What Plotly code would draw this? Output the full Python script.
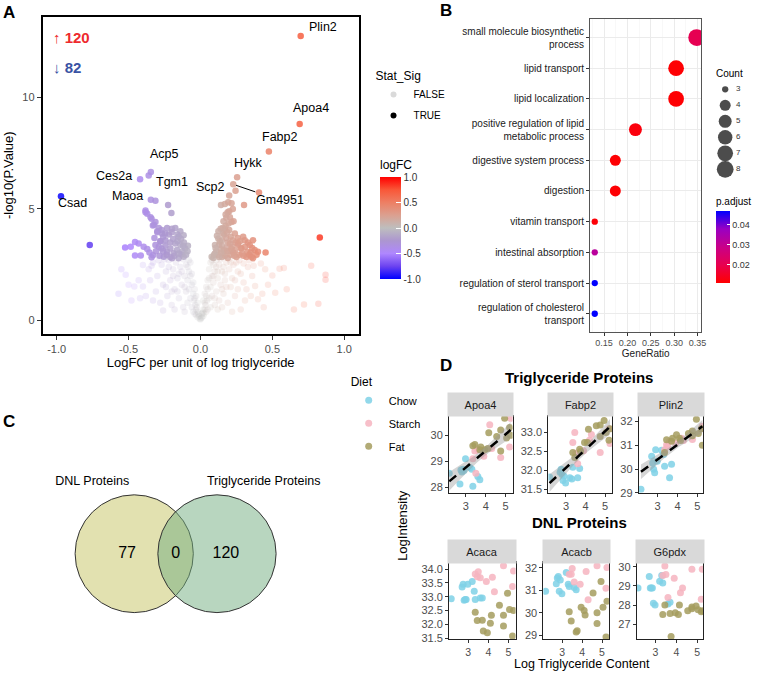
import numpy as np
import plotly.graph_objects as go

# ======================= DATA =======================
# ---- Panel A: volcano (logFC, -log10 P) ----
n_up_sig = 120
n_down_sig = 82

nonsig_points = [
    (0.87, 2.05), (0.87, 1.83), (0.82, 0.75), (0.72, 0.72), (0.77, 2.46), (0.58, 2.35), (0.55, 2.32),
    (0.50, 2.02), (0.45, 2.30), (0.42, 2.55), (0.47, 1.60), (0.43, 1.20), (0.38, 1.55), (0.40, 0.95),
    (0.52, 1.25), (0.36, 2.00), (0.33, 2.40), (0.35, 1.10), (0.30, 1.70), (0.28, 2.10), (0.31, 0.90),
    (0.26, 1.40), (0.25, 2.60), (0.22, 1.90), (0.24, 1.10), (0.20, 2.30), (0.21, 1.50), (0.19, 0.80),
    (0.18, 2.60), (0.17, 1.80), (0.16, 1.20), (0.15, 2.20), (0.14, 1.60), (0.13, 2.50), (0.13, 0.90),
    (0.12, 1.90), (0.11, 2.70), (0.11, 1.30), (0.10, 2.20), (0.10, 0.70), (0.09, 1.70), (0.09, 2.50),
    (0.08, 1.10), (0.08, 2.00), (0.07, 1.50), (0.07, 0.60), (0.06, 1.90), (0.06, 1.00), (0.05, 1.40),
    (0.05, 0.50), (0.045, 0.90), (0.04, 1.10), (0.04, 0.40), (0.035, 0.70), (0.03, 0.50), (0.03, 0.80),
    (0.025, 0.30), (0.02, 0.50), (0.02, 0.20), (0.015, 0.35), (0.01, 0.15), (0.01, 0.30), (0.005, 0.10),
    (0.0, 0.05), (0.14, 2.75), (0.16, 2.40), (0.20, 2.75), (0.23, 2.50), (0.27, 2.70), (0.30, 2.55),
    (0.34, 2.70), (0.37, 2.45), (0.12, 0.50), (0.15, 0.60), (0.22, 0.40), (0.28, 0.50), (0.10, 1.00),
    (0.18, 1.50), (0.26, 2.20), (0.32, 1.40), (0.44, 0.60), (0.60, 1.40), (0.65, 0.50),
    (-0.52, 2.05), (-0.46, 1.53), (-0.40, 1.53), (-0.43, 1.80), (-0.40, 2.49), (-0.36, 2.30), (-0.57, 1.20),
    (-0.48, 0.90), (-0.38, 1.10), (-0.35, 1.80), (-0.33, 2.60), (-0.31, 1.30), (-0.30, 2.00), (-0.28, 0.80),
    (-0.27, 2.50), (-0.26, 1.60), (-0.24, 2.20), (-0.23, 1.10), (-0.22, 2.70), (-0.21, 1.80), (-0.20, 0.70),
    (-0.19, 2.30), (-0.18, 1.40), (-0.17, 2.60), (-0.16, 1.90), (-0.15, 1.00), (-0.14, 2.40), (-0.13, 1.60),
    (-0.12, 2.75), (-0.12, 0.60), (-0.11, 2.00), (-0.10, 1.30), (-0.10, 2.50), (-0.09, 1.80), (-0.09, 0.80),
    (-0.08, 2.20), (-0.08, 1.40), (-0.07, 1.00), (-0.07, 2.00), (-0.06, 1.60), (-0.06, 0.60), (-0.05, 1.20),
    (-0.05, 0.40), (-0.045, 0.90), (-0.04, 1.00), (-0.04, 0.30), (-0.035, 0.70), (-0.03, 0.50), (-0.03, 0.25),
    (-0.025, 0.60), (-0.02, 0.40), (-0.02, 0.15), (-0.015, 0.30), (-0.01, 0.20), (-0.005, 0.08),
    (-0.25, 2.75), (-0.29, 2.70), (-0.34, 2.45), (-0.18, 0.50), (-0.26, 0.45), (-0.33, 0.90), (-0.42, 1.00),
    (-0.50, 1.60), (-0.55, 2.30), (-0.15, 2.10), (-0.20, 1.30), (-0.11, 0.40),
    (0.03, 1.20), (0.06, 2.30), (0.07, 2.60), (0.08, 2.70), (0.05, 1.80), (0.04, 1.50), (-0.03, 1.10),
    (-0.05, 1.70), (-0.06, 2.10), (-0.07, 2.60), (-0.08, 2.70), (-0.04, 1.40), (0.02, 0.90), (-0.02, 0.80),
    (0.09, 2.00), (-0.09, 2.40), (0.11, 2.40), (-0.11, 1.50), (0.12, 2.20), (-0.13, 2.20), (0.15, 1.40),
    (-0.16, 1.30), (0.17, 2.10), (-0.19, 2.00), (0.21, 2.60), (-0.22, 2.40), (0.24, 1.80), (-0.24, 1.50),
]

down_sig_points = [
    (-0.97, 5.57), (-0.77, 3.38), (-0.524, 3.27), (-0.485, 3.30), (-0.455, 3.52), (-0.43, 3.45),
    (-0.395, 3.30), (-0.455, 2.91), (-0.415, 2.91), (-0.34, 2.84), (-0.33, 2.92),
    (-0.42, 6.33), (-0.345, 6.65), (-0.36, 6.50), (-0.345, 5.41), (-0.313, 5.37), (-0.382, 4.93),
    (-0.37, 4.78), (-0.347, 4.63), (-0.331, 4.26), (-0.313, 4.41), (-0.29, 4.14), (-0.30, 3.95),
    (-0.32, 3.70), (-0.28, 3.55), (-0.225, 5.18), (-0.202, 4.82),
    (-0.232, 4.14), (-0.198, 4.11), (-0.175, 4.14), (-0.14, 4.00), (-0.117, 3.82), (-0.152, 3.75),
    (-0.087, 3.35), (-0.244, 3.35), (-0.232, 3.08), (-0.209, 3.23), (-0.186, 3.01), (-0.163, 3.16),
    (-0.133, 2.96), (-0.117, 2.86), (-0.255, 2.86), (-0.198, 2.79), (-0.152, 2.79), (-0.271, 3.23),
    (-0.29, 3.30), (-0.313, 3.38), (-0.278, 3.55), (-0.244, 3.60), (-0.21, 3.50), (-0.175, 3.45),
    (-0.14, 3.40), (-0.106, 3.23), (-0.22, 3.85), (-0.267, 3.90), (-0.30, 4.00), (-0.324, 4.29),
    (-0.34, 4.56), (-0.382, 4.85), (-0.26, 3.75), (-0.19, 3.65), (-0.16, 3.55), (-0.125, 3.10),
    (-0.10, 2.95), (-0.18, 2.90), (-0.21, 2.85), (-0.235, 2.95), (-0.26, 3.10), (-0.285, 2.90),
    (-0.31, 3.10), (-0.355, 3.05), (-0.37, 3.20), (-0.15, 3.00), (-0.12, 3.35), (-0.09, 3.10),
    (-0.27, 4.05), (-0.245, 3.90), (-0.20, 3.95), (-0.16, 3.85), (-0.135, 3.65), (-0.115, 3.50),
]

up_sig_points = [
    (0.697, 12.74), (0.69, 8.80), (0.476, 7.57), (0.255, 6.42), (0.228, 6.10), (0.244, 5.81),
    (0.407, 5.74), (0.303, 5.18), (0.83, 3.72), (0.453, 3.05),
    (0.143, 5.18), (0.17, 5.22), (0.193, 5.30), (0.216, 5.25), (0.189, 4.85), (0.205, 4.63),
    (0.216, 4.41), (0.23, 4.45), (0.195, 4.35), (0.17, 4.11), (0.14, 4.11), (0.20, 4.05),
    (0.239, 3.90), (0.124, 3.67), (0.101, 3.38), (0.078, 2.86), (0.09, 2.80), (0.11, 3.10),
    (0.13, 3.40), (0.15, 3.60), (0.165, 3.85), (0.18, 3.70), (0.19, 3.50), (0.21, 3.75),
    (0.225, 3.60), (0.245, 3.50), (0.26, 3.40), (0.14, 3.20), (0.16, 3.00), (0.18, 3.25),
    (0.20, 3.10), (0.22, 3.30), (0.12, 2.95), (0.15, 2.85), (0.17, 2.90), (0.19, 2.80),
    (0.21, 2.95), (0.23, 3.05), (0.25, 2.85), (0.10, 3.00), (0.135, 3.55), (0.155, 3.90),
    (0.175, 4.25), (0.185, 3.95), (0.205, 3.45), (0.24, 3.15), (0.27, 2.95), (0.26, 3.70),
    (0.28, 3.25), (0.297, 3.75), (0.308, 3.60), (0.343, 3.38), (0.366, 3.60), (0.377, 3.16),
    (0.40, 3.08), (0.366, 2.79), (0.326, 3.08), (0.285, 3.23), (0.262, 3.45), (0.30, 2.90),
    (0.32, 2.85), (0.35, 3.05), (0.34, 2.95), (0.29, 3.00), (0.31, 3.30), (0.33, 3.50),
    (0.275, 3.55), (0.36, 3.25), (0.39, 2.95), (0.355, 2.85), (0.115, 3.80), (0.125, 4.00),
    (0.16, 4.45), (0.18, 4.60), (0.20, 4.90), (0.225, 5.00), (0.175, 4.75), (0.155, 4.15),
    (0.20, 5.60), (0.15, 3.35), (0.165, 3.15), (0.105, 3.25), (0.095, 2.95), (0.185, 3.10),
    (0.215, 3.20), (0.235, 2.90), (0.13, 2.85), (0.145, 3.05),
]

label_genes = ["Plin2", "Apoa4", "Fabp2", "Hykk", "Acp5", "Ces2a", "Tgm1", "Maoa", "Csad", "Scp2"]
label_logfc = [0.697, 0.69, 0.476, 0.255, -0.345, -0.42, -0.36, -0.345, -0.97, 0.244]
label_logp = [12.74, 8.80, 7.57, 6.42, 6.65, 6.33, 6.50, 5.41, 5.57, 5.81]
arrow_gene = "Gm4951"
arrow_logfc = 0.228
arrow_logp = 6.10

# ---- Panel B: GO enrichment ----
go_terms = [
    "small molecule biosynthetic<br>process", "lipid transport", "lipid localization",
    "positive regulation of lipid<br>metabolic process", "digestive system process", "digestion",
    "vitamin transport", "intestinal absorption", "regulation of sterol transport",
    "regulation of cholesterol<br>transport",
]
go_gene_ratio = [0.348, 0.304, 0.304, 0.217, 0.174, 0.174, 0.130, 0.130, 0.130, 0.130]
go_count = [8, 7, 7, 5, 4, 4, 3, 3, 3, 3]
go_padj = [0.0205, 0.0113, 0.0113, 0.0125, 0.0115, 0.0115, 0.0118, 0.0320, 0.0470, 0.0470]
count_breaks = [3, 4, 5, 6, 7, 8]

# ---- Panel C: Venn ----
venn_sets = ["DNL Proteins", "Triglyceride Proteins"]
venn_counts = [77, 0, 120]   # DNL only, both, TG only

# ---- Panel D: protein intensity vs log triglyceride ----
diet_names = ["Chow", "Starch", "Fat"]
tg_chow = [2.16, 2.70, 2.75, 2.80, 2.85, 2.98, 3.20, 3.30, 3.35, 3.60, 3.70, 2.90]
tg_starch = [3.35, 3.50, 3.45, 3.60, 3.90, 4.20, 4.30, 4.75, 5.25, 5.20]
tg_fat = [3.35, 3.45, 3.70, 3.75, 3.95, 4.15, 4.10, 4.55, 4.75, 4.75, 4.95, 5.05, 5.25, 5.20]

apoa4_chow = [28.55, 28.14, 28.67, 28.60, 28.70, 29.10, 28.77, 28.70, 28.05, 28.43, 28.30, 28.65]
apoa4_starch = [29.10, 28.55, 29.40, 29.45, 29.20, 30.40, 29.50, 29.15, 30.65, 29.55]
apoa4_fat = [29.60, 29.65, 29.45, 29.55, 29.45, 30.10, 29.50, 29.95, 29.40, 30.20, 30.65, 29.90, 30.00, 30.30]

fabp2_chow = [31.82, 31.95, 32.03, 31.89, 31.73, 31.66, 31.80, 31.77, 32.08, 31.80, 32.05, 31.85]
fabp2_starch = [32.74, 32.45, 33.00, 32.17, 32.52, 32.80, 32.95, 32.47, 32.71, 33.10]
fabp2_fat = [32.47, 32.34, 32.56, 32.50, 32.74, 33.09, 32.74, 33.18, 32.90, 33.20, 33.32, 33.00, 33.10, 32.80]

plin2_chow = [29.15, 30.54, 30.26, 29.99, 29.85, 30.33, 30.79, 30.61, 30.12, 29.64, 30.20, 30.82]
plin2_starch = [30.82, 30.96, 31.03, 31.17, 31.10, 31.30, 31.20, 31.25, 31.80, 31.70]
plin2_fat = [30.70, 31.24, 31.17, 31.30, 31.45, 31.20, 31.30, 31.50, 31.60, 31.40, 32.10, 31.50, 31.00, 31.70]

acaca_chow = [32.93, 33.35, 33.45, 32.87, 32.90, 33.45, 33.55, 33.20, 32.90, 32.95, 32.95, 32.90]
acaca_starch = [33.82, 33.90, 33.72, 33.69, 33.55, 33.70, 33.18, 34.12, 33.93, 33.37]
acaca_fat = [32.44, 32.14, 32.15, 31.76, 31.70, 32.33, 32.04, 32.69, 32.33, 31.94, 33.13, 32.54, 32.50, 31.58]

acacb_chow = [30.96, 31.30, 31.55, 31.62, 30.96, 30.85, 31.80, 31.28, 31.18, 31.13, 31.03, 31.47]
acacb_starch = [31.72, 31.98, 31.72, 31.37, 31.28, 31.84, 30.59, 32.10, 32.02, 31.10]
acacb_fat = [30.05, 29.64, 29.15, 29.20, 30.25, 29.90, 30.10, 30.88, 29.53, 30.00, 31.40, 30.25, 30.52, 28.93]

g6pdx_chow = [28.90, 29.50, 28.90, 28.90, 28.90, 28.00, 29.25, 29.55, 29.15, 28.05, 28.15, 28.10]
g6pdx_starch = [29.55, 29.60, 30.05, 28.40, 29.40, 28.65, 28.90, 29.88, 29.88, 28.30]
g6pdx_fat = [27.50, 28.00, 27.55, 26.35, 27.60, 28.00, 27.50, 27.70, 27.80, 27.90, 27.95, 27.75, 27.70, 27.65]

tg_proteins = ["Apoa4", "Fabp2", "Plin2"]
dnl_proteins = ["Acaca", "Acacb", "G6pdx"]

# ======================= STYLE / LAYOUT =======================
W, H = 759, 678
FONT = "Liberation Sans, Arial, Helvetica, sans-serif"
TICKGREY = "#4D4D4D"


def xdom(l, r):
    return [l / W, r / W]


def ydom(t, b):
    return [1 - b / H, 1 - t / H]


def pxx(v):
    return v / W


def pxy(v):
    return 1 - v / H


def paper_text(x, y, text, size, xanchor="center", yanchor="middle", color="black", **kw):
    d = dict(x=pxx(x), y=pxy(y), xref="paper", yref="paper", text=text, showarrow=False,
             xanchor=xanchor, yanchor=yanchor, font=dict(size=size, color=color))
    d.update(kw)
    return d


logfc_scale = [
    [0.0, "rgb(0,0,255)"], [0.125, "rgb(108,67,240)"], [0.25, "rgb(175,135,254)"],
    [0.375, "rgb(172,150,208)"], [0.5, "rgb(190,190,190)"], [0.625, "rgb(219,160,144)"],
    [0.75, "rgb(237,127,100)"], [0.875, "rgb(249,87,56)"], [1.0, "rgb(255,0,0)"],
]
padj_scale = [
    [0.0, "rgb(255,0,0)"], [0.25, "rgb(232,0,79)"], [0.5, "rgb(201,0,136)"],
    [0.75, "rgb(154,0,194)"], [1.0, "rgb(0,0,255)"],
]
diet_colors = {"Chow": "#7FD1E6", "Starch": "#F6B4C0", "Fat": "#A49C5E"}


def count_size(c):
    # ggplot-like area scaling, range (3, 8) -> pixel diameter
    return 2.1 * (3 + 5 * np.sqrt((c - 3) / 5.0))


fig = go.Figure()

# ---------- Panel A ----------
ns_x, ns_y = zip(*nonsig_points)
fig.add_trace(go.Scatter(
    x=ns_x, y=ns_y, mode="markers", xaxis="x", yaxis="y", showlegend=False, hoverinfo="skip",
    marker=dict(color=list(ns_x), coloraxis="coloraxis", size=6.5, opacity=0.17, line=dict(width=0)),
))
sig_points = down_sig_points + up_sig_points
sg_x, sg_y = zip(*sig_points)
fig.add_trace(go.Scatter(
    x=sg_x, y=sg_y, mode="markers", xaxis="x", yaxis="y", showlegend=False,
    marker=dict(color=list(sg_x), coloraxis="coloraxis", size=6.5, opacity=0.85, line=dict(width=0)),
))
# Stat_Sig legend entries
fig.add_trace(go.Scatter(x=[None], y=[None], mode="markers", name="FALSE", legend="legend",
                         legendgroup="false", marker=dict(color="#DADADA", size=6),
                         xaxis="x", yaxis="y"))
fig.add_trace(go.Scatter(x=[None], y=[None], mode="markers", name="TRUE", legend="legend",
                         legendgroup="true", marker=dict(color="black", size=6),
                         xaxis="x", yaxis="y"))

annotations = []
label_offsets = {"Plin2": (22, 9), "Apoa4": (11, 16), "Fabp2": (11, 15), "Hykk": (11, 14),
                 "Acp5": (14, 18), "Ces2a": (-26, 3), "Tgm1": (23, -7), "Maoa": (-23, 4),
                 "Csad": (12, -7), "Scp2": (-25, 4)}
for g, lx, ly in zip(label_genes, label_logfc, label_logp):
    dx, dy = label_offsets[g]
    annotations.append(dict(x=lx, y=ly, xref="x", yref="y", text=g, showarrow=False,
                            xanchor="center", yanchor="middle",
                            xshift=dx, yshift=dy, font=dict(size=12.5, color="black")))
annotations.append(dict(x=arrow_logfc, y=arrow_logp, xref="x", yref="y", text=arrow_gene,
                        showarrow=True, arrowhead=0, arrowwidth=1, arrowcolor="black",
                        ax=47, ay=16, standoff=3, font=dict(size=12.5, color="black")))
annotations.append(paper_text(51, 37, "<b>↑ %d</b>" % n_up_sig, 15, xanchor="left", color="#EE2A2E"))
annotations.append(paper_text(51, 67, "<b>↓ %d</b>" % n_down_sig, 15, xanchor="left", color="#3953A4"))
annotations.append(paper_text(381, 166, "logFC", 12, xanchor="left"))

# ---------- Panel B ----------
fig.add_trace(go.Scatter(
    x=go_gene_ratio, y=go_terms, mode="markers", xaxis="x2", yaxis="y2", showlegend=False,
    marker=dict(size=[count_size(c) for c in go_count], color=go_padj, coloraxis="coloraxis2",
                opacity=1, line=dict(width=0)),
))
# Count size legend (drawn on a hidden axis)
fig.add_trace(go.Scatter(
    x=[0] * len(count_breaks), y=count_breaks, mode="markers", xaxis="x4", yaxis="y4",
    showlegend=False, hoverinfo="skip", cliponaxis=False,
    marker=dict(size=[count_size(c) for c in count_breaks], color="black", line=dict(width=0)),
))
fig.add_trace(go.Scatter(
    x=[11] * len(count_breaks), y=count_breaks, mode="text", xaxis="x4", yaxis="y4",
    text=[str(c) for c in count_breaks], textposition="middle right", showlegend=False,
    hoverinfo="skip", cliponaxis=False, textfont=dict(size=8, color="#333333"),
))
annotations.append(paper_text(719, 73, "Count", 10, xanchor="left"))
annotations.append(paper_text(719, 203, "p.adjust", 10, xanchor="left"))

# ---------- Panel C ----------
fig.add_trace(go.Scatter(
    x=[-0.82, 0.0, 0.85], y=[0, 0, 0], mode="text", xaxis="x3", yaxis="y3",
    text=[str(v) for v in venn_counts], showlegend=False, hoverinfo="skip", cliponaxis=False,
    textfont=dict(size=16, color="black"),
))
fig.add_trace(go.Scatter(
    x=[-1.41, 1.49], y=[1.22, 1.22], mode="text", xaxis="x3", yaxis="y3",
    text=venn_sets, showlegend=False, hoverinfo="skip", cliponaxis=False,
    textfont=dict(size=12.5, color="black"),
))
shapes = [
    dict(type="circle", xref="x3", yref="y3", x0=-1.7, x1=0.3, y0=-1, y1=1,
         fillcolor="rgba(197,195,97,0.5)", line=dict(color="#333333", width=1), layer="below"),
    dict(type="circle", xref="x3", yref="y3", x0=-0.3, x1=1.7, y0=-1, y1=1,
         fillcolor="rgba(113,173,127,0.5)", line=dict(color="#333333", width=1), layer="below"),
]

# ---------- Panel D ----------
tg_by_diet = {"Chow": tg_chow, "Starch": tg_starch, "Fat": tg_fat}
panel_values = {
    "Apoa4": (apoa4_chow, apoa4_starch, apoa4_fat),
    "Fabp2": (fabp2_chow, fabp2_starch, fabp2_fat),
    "Plin2": (plin2_chow, plin2_starch, plin2_fat),
    "Acaca": (acaca_chow, acaca_starch, acaca_fat),
    "Acacb": (acacb_chow, acacb_starch, acacb_fat),
    "G6pdx": (g6pdx_chow, g6pdx_starch, g6pdx_fat),
}
# layout boxes: (left, right, top, bottom) px, x range, y range, y ticks, y format
panel_boxes = {
    "Apoa4": (452, 516, 419, 497, [2.15, 5.35], [27.8, 30.75], [28, 29, 30], "d"),
    "Fabp2": (552, 616, 419, 497, [2.10, 5.35], [31.4, 33.45], [31.5, 32.0, 32.5, 33.0], ".1f"),
    "Plin2": (643, 708, 419, 497, [2.05, 5.30], [29.0, 32.25], [29, 30, 31, 32], "d"),
    "Acaca": (452, 519, 567, 645, [2.05, 5.35], [31.46, 34.25], [31.5, 32.0, 32.5, 33.0, 33.5, 34.0], ".1f"),
    "Acacb": (547, 613, 567, 645, [2.05, 5.35], [28.82, 32.26], [29, 30, 31, 32], "d"),
    "G6pdx": (641, 708, 567, 645, [2.10, 5.30], [26.2, 30.25], [27, 28, 29, 30], "d"),
}


def fit_band(x, y, n_grid=60):
    x = np.asarray(x, float)
    y = np.asarray(y, float)
    b1, b0 = np.polyfit(x, y, 1)
    xs = np.linspace(x.min(), x.max(), n_grid)
    yhat = b0 + b1 * xs
    resid = y - (b0 + b1 * x)
    n = len(x)
    s = np.sqrt(np.sum(resid ** 2) / (n - 2))
    sxx = np.sum((x - x.mean()) ** 2)
    se = s * np.sqrt(1.0 / n + (xs - x.mean()) ** 2 / sxx)
    t = 2.03
    return xs, yhat, yhat - t * se, yhat + t * se


layout_axes = {}


def frame_axis(domain, rng, anchor, **kw):
    d = dict(domain=domain, range=rng, anchor=anchor, showline=True, mirror=True,
             linecolor="#222222", linewidth=1, ticks="outside", ticklen=3, tickcolor="#333333",
             tickfont=dict(size=11, color=TICKGREY), showgrid=False, zeroline=False, fixedrange=True)
    d.update(kw)
    return d


all_panels = tg_proteins + dnl_proteins
for i, prot in enumerate(all_panels):
    k = 5 + i
    xa, ya = "x%d" % k, "y%d" % k
    l, r, t, b, xr, yr, yt, yf = panel_boxes[prot]
    vals = panel_values[prot]
    for dname, yv in zip(diet_names, vals):
        fig.add_trace(go.Scatter(
            x=tg_by_diet[dname], y=yv, mode="markers", xaxis=xa, yaxis=ya,
            name=dname, legend="legend2", legendgroup=dname, showlegend=(i == 0),
            marker=dict(color=diet_colors[dname], size=7, opacity=0.85, line=dict(width=0)),
        ))
    if prot in tg_proteins:
        allx = tg_chow + tg_starch + tg_fat
        ally = list(vals[0]) + list(vals[1]) + list(vals[2])
        xs, yhat, lo, hi = fit_band(allx, ally)
        fig.add_trace(go.Scatter(
            x=np.concatenate([xs, xs[::-1]]), y=np.concatenate([hi, lo[::-1]]), fill="toself",
            fillcolor="rgba(150,150,150,0.4)", line=dict(width=0), mode="lines",
            xaxis=xa, yaxis=ya, showlegend=False, hoverinfo="skip",
        ))
        fig.add_trace(go.Scatter(
            x=xs, y=yhat, mode="lines", line=dict(color="black", width=2.5, dash="dash"),
            xaxis=xa, yaxis=ya, showlegend=False, hoverinfo="skip",
        ))
    xtick_size = 11 if prot in tg_proteins else 10.5
    layout_axes["xaxis%d" % k] = frame_axis(xdom(l, r), xr, ya, tickvals=[3, 4, 5],
                                            tickfont=dict(size=xtick_size, color=TICKGREY))
    layout_axes["yaxis%d" % k] = frame_axis(ydom(t, b), yr, xa, tickvals=yt, tickformat=yf)
    # facet strip
    annotations.append(paper_text((l + r) / 2, t - 11, prot, 11, color="#1A1A1A",
                                  width=r - l - 1, height=21, bgcolor="#D9D9D9"))

annotations += [
    paper_text(583, 380, "<b>Triglyceride Proteins</b>", 15),
    paper_text(583, 527, "<b>DNL Proteins</b>", 15),
    paper_text(586, 670, "Log Triglyceride Content", 12.5),
    paper_text(405, 530, "LogIntensity", 13, textangle=-90),
    paper_text(1, 12, "<b>A</b>", 17, xanchor="left"),
    paper_text(441, 10, "<b>B</b>", 17, xanchor="left"),
    paper_text(1, 425, "<b>C</b>", 17, xanchor="left"),
    paper_text(441, 368, "<b>D</b>", 17, xanchor="left"),
]

fig.update_layout(
    width=W, height=H, autosize=False,
    margin=dict(l=0, r=0, t=0, b=0),
    paper_bgcolor="white", plot_bgcolor="white",
    font=dict(family=FONT, color="black"),
    xaxis=frame_axis(xdom(43, 361), [-1.097, 1.10], "y", linewidth=2, linecolor="black", ticklen=4,
                     tickvals=[-1, -0.5, 0, 0.5, 1], ticktext=["-1.0", "-0.5", "0.0", "0.5", "1.0"],
                     title=dict(text="LogFC per unit of log triglyceride",
                                font=dict(size=13, color="black"), standoff=3)),
    yaxis=frame_axis(ydom(16, 336), [-0.58, 13.6], "x", linewidth=2, linecolor="black", ticklen=4,
                     tickvals=[0, 5, 10],
                     title=dict(text="-log10(P.Value)", font=dict(size=13, color="black"), standoff=6)),
    xaxis2=frame_axis(xdom(594, 706), [0.12, 0.358], "y2", linecolor="#555555",
                      tickvals=[0.15, 0.20, 0.25, 0.30, 0.35],
                      ticktext=["0.15", "0.20", "0.25", "0.30", "0.35"],
                      tickfont=dict(size=9, color=TICKGREY), showgrid=True, gridcolor="#EBEBEB",
                      gridwidth=1,
                      minor=dict(tickvals=[0.125, 0.175, 0.225, 0.275, 0.325], showgrid=True,
                                 gridcolor="#F3F3F3", gridwidth=0.6),
                      title=dict(text="GeneRatio", font=dict(size=10, color="#1A1A1A"), standoff=2)),
    yaxis2=frame_axis(ydom(18, 334), [-0.58, 9.61], "x2", linecolor="#555555", type="category",
                      categoryorder="array", categoryarray=go_terms[::-1], showgrid=True,
                      gridcolor="#EBEBEB", tickfont=dict(size=10, color="#1A1A1A")),
    xaxis3=dict(domain=xdom(60, 300), range=[-1.962, 2.071], visible=False, anchor="y3", fixedrange=True),
    yaxis3=dict(domain=ydom(470, 640), range=[-1.37, 1.487], visible=False, anchor="x3", fixedrange=True),
    xaxis4=dict(domain=xdom(715, 759), range=[-15, 29], visible=False, anchor="y4", fixedrange=True),
    yaxis4=dict(domain=ydom(80, 180), range=[8.61, 2.43], visible=False, anchor="x4", fixedrange=True),
    coloraxis=dict(
        colorscale=logfc_scale, cmin=-1, cmax=1,
        colorbar=dict(x=pxx(383), xanchor="left", xpad=0, y=pxy(178), yanchor="top", ypad=0,
                      len=102, lenmode="pixels", thickness=21, thicknessmode="pixels",
                      outlinewidth=0, ticks="inside", ticklen=5, tickcolor="white",
                      tickvals=[-1, -0.5, 0, 0.5, 1], ticktext=["-1.0", "-0.5", "0.0", "0.5", "1.0"],
                      tickfont=dict(size=10, color="#333333")),
    ),
    coloraxis2=dict(
        colorscale=padj_scale, cmin=0.011, cmax=0.047,
        colorbar=dict(x=pxx(721), xanchor="left", xpad=0, y=pxy(212), yanchor="top", ypad=0,
                      len=72, lenmode="pixels", thickness=14, thicknessmode="pixels",
                      outlinewidth=0, ticks="inside", ticklen=3, tickcolor="white",
                      tickvals=[0.02, 0.03, 0.04], ticktext=["0.02", "0.03", "0.04"],
                      tickfont=dict(size=9, color="#333333")),
    ),
    legend=dict(title=dict(text="Stat_Sig", font=dict(size=12, color="black")),
                x=pxx(376), y=pxy(64), xanchor="left", yanchor="top", bgcolor="rgba(0,0,0,0)",
                font=dict(size=10, color="black"), itemsizing="trace", itemwidth=30,
                tracegroupgap=2),
    legend2=dict(title=dict(text="Diet", font=dict(size=12, color="black")),
                 x=pxx(351), y=pxy(373), xanchor="left", yanchor="top", bgcolor="rgba(0,0,0,0)",
                 font=dict(size=11, color="black"), itemsizing="trace", itemwidth=30,
                 tracegroupgap=4),
    annotations=annotations,
    shapes=shapes,
    **layout_axes,
)

fig.write_html(
    "out.html",
    config={"displayModeBar": False, "staticPlot": True},
    post_script="document.body.style.margin='0';document.body.style.overflow='hidden';",
)
